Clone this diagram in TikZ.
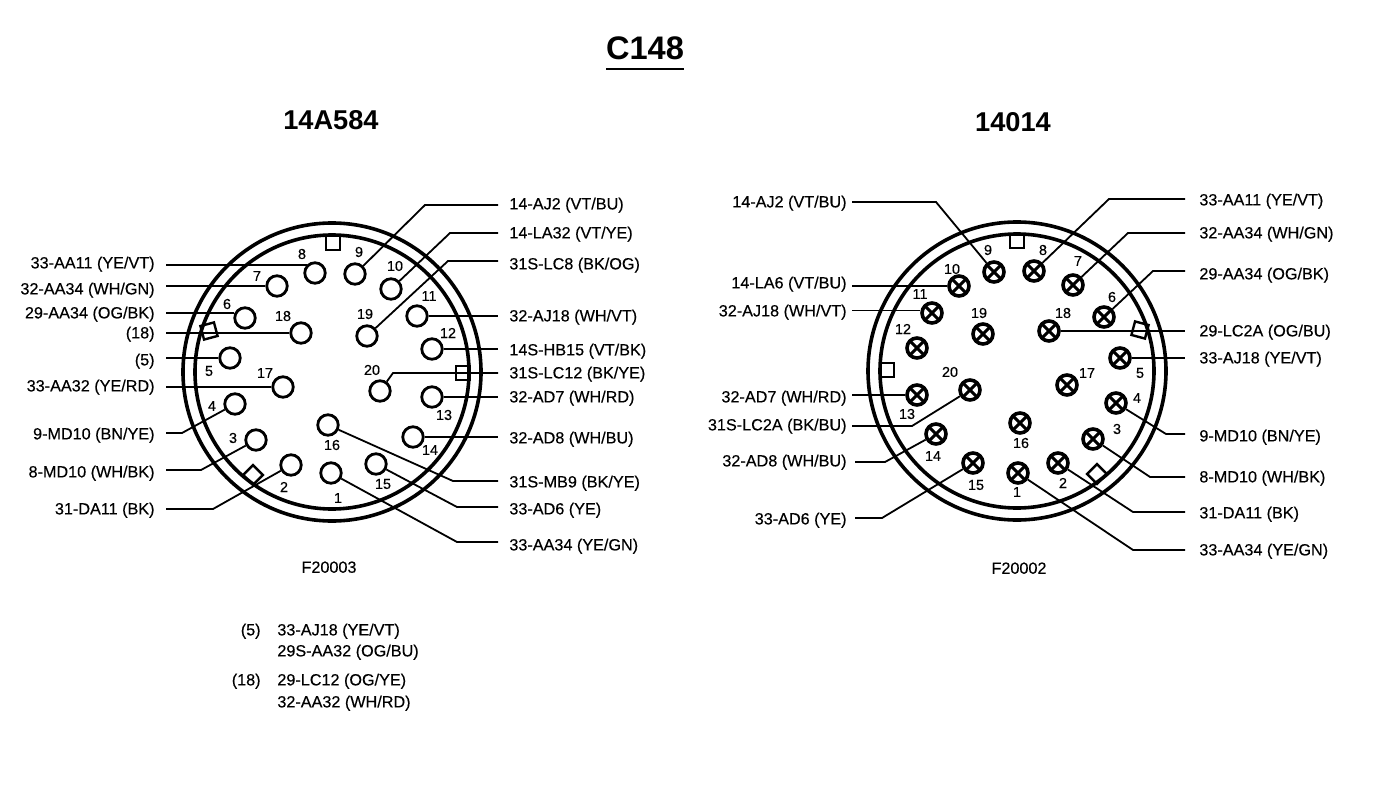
\documentclass[tikz,border=0pt]{standalone}
\usepackage{fontspec}
\setmainfont{Liberation Sans}
\newfontfamily\scanfont[FakeBold=0.3]{Liberation Sans}

\tikzset{
  ring/.style={line width=1.8pt},
  key/.style={draw, line width=1.2pt, minimum size=7pt, inner sep=0pt},
  pina/.style={circle, draw, fill=white, line width=1.4pt, minimum size=10.25pt, inner sep=0pt},
  pinb/.style={pina, line width=1.8pt, minimum size=10pt,
    path picture={\draw [line width=1.5pt] (path picture bounding box.north west) -- (path picture bounding box.south east);
      \draw [line width=1.5pt] (path picture bounding box.north east) -- (path picture bounding box.south west);}},
  num/.style={inner sep=0pt, font=\scanfont\fontsize{7.2}{8}\selectfont},
  labl/.style={anchor=east, inner xsep=#1, inner ysep=0pt, yshift=-0.6pt, font=\scanfont\fontsize{8.1}{9}\selectfont},
  labr/.style={anchor=west, inner xsep=#1, inner ysep=0pt, yshift=-0.6pt, font=\scanfont\fontsize{8.1}{9}\selectfont},
  wire/.style={line width=0.9pt},
  heavywire/.style={line width=1.4pt},
  head/.style={inner sep=0pt, font=\fontsize{13.6}{16}\bfseries\selectfont},
  foot/.style={inner sep=0pt, yshift=-0.6pt, font=\scanfont\fontsize{8.1}{9}\selectfont}
}

\begin{document}
\begin{tikzpicture}[x=0.5pt, y=-0.5pt]
\useasboundingbox (0,0) rectangle (1376,792);

\node [inner sep=0pt, font=\fontsize{16.3}{18}\bfseries\selectfont] (title) at (645,48) {C148};
\draw [line width=1pt] (606,69) -- (684,69);
\node [head] (heada) at (331,120) {14A584};
\node [head] (headb) at (1013,122) {14014};
\node [foot] (foota) at (329,566) {F20003};
\node [foot] (footb) at (1019,567) {F20002};

% left connector
\draw [ring] (332,372) circle [radius=149];
\draw [ring] (332,372) circle [radius=137];
\node [key] (keya1) at (333,243) {};
\node [key, rotate=15] (keya2) at (209,331) {};
\node [key] (keya3) at (463,373) {};
\node [key, rotate=45] (keya4) at (253,475) {};

\node [pina] (a1) at (331,473) {};
\node [pina] (a2) at (291,465) {};
\node [pina] (a3) at (256,440) {};
\node [pina] (a4) at (235,404) {};
\node [pina] (a5) at (230,358) {};
\node [pina] (a6) at (245,318) {};
\node [pina] (a7) at (277,286) {};
\node [pina] (a8) at (315,273) {};
\node [pina] (a9) at (355,274) {};
\node [pina] (a10) at (391,289) {};
\node [pina] (a11) at (417,316) {};
\node [pina] (a12) at (432,349) {};
\node [pina] (a13) at (432,397) {};
\node [pina] (a14) at (413,437) {};
\node [pina] (a15) at (376,464) {};
\node [pina] (a16) at (328,425) {};
\node [pina] (a17) at (283,387) {};
\node [pina] (a18) at (301,333) {};
\node [pina] (a19) at (367,336) {};
\node [pina] (a20) at (380,391) {};

\node [num] (ta1) at (338,498) {1};
\node [num] (ta2) at (284,487) {2};
\node [num] (ta3) at (233,438) {3};
\node [num] (ta4) at (212,406) {4};
\node [num] (ta5) at (209,371) {5};
\node [num] (ta6) at (227,304) {6};
\node [num] (ta7) at (257,276) {7};
\node [num] (ta8) at (302,254) {8};
\node [num] (ta9) at (359,252) {9};
\node [num] (ta10) at (395,266) {10};
\node [num] (ta11) at (429,296) {11};
\node [num] (ta12) at (448,333) {12};
\node [num] (ta13) at (444,415) {13};
\node [num] (ta14) at (430,450) {14};
\node [num] (ta15) at (383,484) {15};
\node [num] (ta16) at (332,445) {16};
\node [num] (ta17) at (265,373) {17};
\node [num] (ta18) at (283,316) {18};
\node [num] (ta19) at (365,314) {19};
\node [num] (ta20) at (372,370) {20};

\node [labl=5.5pt] (la8) at (166,263) {33-AA11 (YE/VT)};
\node [labl=5.5pt] (la7) at (166,289) {32-AA34 (WH/GN)};
\node [labl=5.5pt] (la6) at (166,313) {29-AA34 (OG/BK)};
\node [labl=5.5pt] (la18) at (166,333) {(18)};
\node [labl=5.5pt] (la5) at (166,360) {(5)};
\node [labl=5.5pt] (la17) at (166,386) {33-AA32 (YE/RD)};
\node [labl=5.5pt] (la4) at (166,434) {9-MD10 (BN/YE)};
\node [labl=5.5pt] (la3) at (166,472) {8-MD10 (WH/BK)};
\node [labl=5.5pt] (la2) at (166,509) {31-DA11 (BK)};

\node [labr=5.5pt] (la9) at (498,204) {14-AJ2 (VT/BU)};
\node [labr=5.5pt] (la10) at (498,233) {14-LA32 (VT/YE)};
\node [labr=5.5pt] (la19) at (498,264) {31S-LC8 (BK/OG)};
\node [labr=5.5pt] (la11) at (498,316) {32-AJ18 (WH/VT)};
\node [labr=5.5pt] (la12) at (498,350) {14S-HB15 (VT/BK)};
\node [labr=5.5pt] (la20) at (498,373) {31S-LC12 (BK/YE)};
\node [labr=5.5pt] (la13) at (498,397) {32-AD7 (WH/RD)};
\node [labr=5.5pt] (la14) at (498,438) {32-AD8 (WH/BU)};
\node [labr=5.5pt] (la16) at (498,482) {31S-MB9 (BK/YE)};
\node [labr=5.5pt] (la15) at (498,509) {33-AD6 (YE)};
\node [labr=5.5pt] (la1) at (498,545) {33-AA34 (YE/GN)};

\draw [wire] (a8.136) -- (la8.east |- a8.136);
\draw [wire] (a7) -- (la7.east |- a7);
\draw [wire] (a6.156) -- (la6.east |- a6.156);
\draw [wire] (a18) -- (la18.east |- a18);
\draw [wire] (a5) -- (la5.east |- a5);
\draw [wire] (a17) -- (la17.east |- a17);
\draw [wire] (a11) -- (la11.west |- a11);
\draw [heavywire] (a12) -- (la12.west |- a12);
\draw [wire] (a13) -- (la13.west |- a13);
\draw [wire] (a14) -- (la14.west |- a14);

\coordinate (ka4) at (182,433);
\coordinate (ka3) at (201,470);
\coordinate (ka2) at (213,509);
\coordinate (ka9) at (425,205);
\coordinate (ka10) at (450,233);
\coordinate (ka19) at (448,261);
\coordinate (ka20) at (393,373);
\coordinate (ka16) at (453,481);
\coordinate (ka15) at (457,507);
\coordinate (ka1) at (457,542);
\draw [wire] (a4) -- (ka4) -- (la4.east |- ka4);
\draw [wire] (a3) -- (ka3) -- (la3.east |- ka3);
\draw [wire] (a2) -- (ka2) -- (la2.east |- ka2);
\draw [wire] (a9) -- (ka9) -- (la9.west |- ka9);
\draw [wire] (a10) -- (ka10) -- (la10.west |- ka10);
\draw [wire] (a19) -- (ka19) -- (la19.west |- ka19);
\draw [wire] (a20) -- (ka20) -- (la20.west |- ka20);
\draw [wire] (a16) -- (ka16) -- (la16.west |- ka16);
\draw [wire] (a15) -- (ka15) -- (la15.west |- ka15);
\draw [wire] (a1) -- (ka1) -- (la1.west |- ka1);

% notes
\node [foot, anchor=east] (n5) at (261,630) {(5)};
\node [foot, anchor=west] (n5a) at (277,630) {33-AJ18 (YE/VT)};
\node [foot, anchor=west] (n5b) at (277,651) {29S-AA32 (OG/BU)};
\node [foot, anchor=east] (n18) at (261,680) {(18)};
\node [foot, anchor=west] (n18a) at (277,680) {29-LC12 (OG/YE)};
\node [foot, anchor=west] (n18b) at (277,702) {32-AA32 (WH/RD)};

% right connector
\draw [ring] (1017,371) circle [radius=149];
\draw [ring] (1017,371) circle [radius=137];
\node [key] (keyb1) at (1017,241) {};
\node [key] (keyb2) at (887,370) {};
\node [key, rotate=-15] (keyb3) at (1140,330) {};
\node [key, rotate=45] (keyb4) at (1097,474) {};

\node [pinb] (b1) at (1018,473) {};
\node [pinb] (b2) at (1058,463) {};
\node [pinb] (b3) at (1093,439) {};
\node [pinb] (b4) at (1116,403) {};
\node [pinb] (b5) at (1120,358) {};
\node [pinb] (b6) at (1104,317) {};
\node [pinb] (b7) at (1073,285) {};
\node [pinb] (b8) at (1034,271) {};
\node [pinb] (b9) at (994,272) {};
\node [pinb] (b10) at (959,286) {};
\node [pinb] (b11) at (932,313) {};
\node [pinb] (b12) at (917,348) {};
\node [pinb] (b13) at (917,395) {};
\node [pinb] (b14) at (936,434) {};
\node [pinb] (b15) at (973,463) {};
\node [pinb] (b16) at (1020,423) {};
\node [pinb] (b17) at (1067,385) {};
\node [pinb] (b18) at (1049,331) {};
\node [pinb] (b19) at (983,334) {};
\node [pinb] (b20) at (970,390) {};

\node [num] (tb1) at (1017,492) {1};
\node [num] (tb2) at (1063,483) {2};
\node [num] (tb3) at (1117,429) {3};
\node [num] (tb4) at (1137,398) {4};
\node [num] (tb5) at (1140,373) {5};
\node [num] (tb6) at (1112,297) {6};
\node [num] (tb7) at (1078,261) {7};
\node [num] (tb8) at (1043,250) {8};
\node [num] (tb9) at (988,250) {9};
\node [num] (tb10) at (952,269) {10};
\node [num] (tb11) at (920,294) {11};
\node [num] (tb12) at (903,329) {12};
\node [num] (tb13) at (907,414) {13};
\node [num] (tb14) at (933,456) {14};
\node [num] (tb15) at (976,485) {15};
\node [num] (tb16) at (1021,443) {16};
\node [num] (tb17) at (1087,373) {17};
\node [num] (tb18) at (1063,313) {18};
\node [num] (tb19) at (979,313) {19};
\node [num] (tb20) at (950,372) {20};

\node [labl=2.5pt] (lb9) at (852,202) {14-AJ2 (VT/BU)};
\node [labl=2.5pt] (lb10) at (852,283) {14-LA6 (VT/BU)};
\node [labl=2.5pt] (lb11) at (852,311) {32-AJ18 (WH/VT)};
\node [labl=2.5pt] (lb13) at (852,397) {32-AD7 (WH/RD)};
\node [labl=2.5pt] (lb20) at (852,425) {31S-LC2A (BK/BU)};
\node [labl=4pt] (lb14) at (855,461) {32-AD8 (WH/BU)};
\node [labl=4pt] (lb15) at (855,519) {33-AD6 (YE)};

\node [labr=7pt] (lb8) at (1185,200) {33-AA11 (YE/VT)};
\node [labr=7pt] (lb7) at (1185,233) {32-AA34 (WH/GN)};
\node [labr=7pt] (lb6) at (1185,274) {29-AA34 (OG/BK)};
\node [labr=7pt] (lb18) at (1185,331) {29-LC2A (OG/BU)};
\node [labr=7pt] (lb5) at (1185,358) {33-AJ18 (YE/VT)};
\node [labr=7pt] (lb4) at (1185,436) {9-MD10 (BN/YE)};
\node [labr=7pt] (lb3) at (1185,477) {8-MD10 (WH/BK)};
\node [labr=7pt] (lb2) at (1185,513) {31-DA11 (BK)};
\node [labr=7pt] (lb1) at (1185,550) {33-AA34 (YE/GN)};

\draw [heavywire] (b10) -- (lb10.east |- b10);
\draw [wire] (b11.168) -- (lb11.east |- b11.168);
\draw [wire] (b13) -- (lb13.east |- b13);
\draw [heavywire] (b18) -- (lb18.west |- b18);
\draw [heavywire] (b5) -- (lb5.west |- b5);

\coordinate (kb9) at (936,202);
\coordinate (kb20) at (912,426);
\coordinate (kb14) at (885,462);
\coordinate (kb15) at (882,518);
\coordinate (kb8) at (1109,199);
\coordinate (kb7) at (1128,233);
\coordinate (kb6) at (1153,271);
\coordinate (kb4) at (1166,434);
\coordinate (kb3) at (1150,477);
\coordinate (kb2) at (1133,512);
\coordinate (kb1) at (1133,550);
\draw [wire] (b9) -- (kb9) -- (lb9.east |- kb9);
\draw [wire] (b20) -- (kb20) -- (lb20.east |- kb20);
\draw [wire] (b14) -- (kb14) -- (lb14.east |- kb14);
\draw [wire] (b15) -- (kb15) -- (lb15.east |- kb15);
\draw [wire] (b8) -- (kb8) -- (lb8.west |- kb8);
\draw [wire] (b7) -- (kb7) -- (lb7.west |- kb7);
\draw [wire] (b6) -- (kb6) -- (lb6.west |- kb6);
\draw [wire] (b4) -- (kb4) -- (lb4.west |- kb4);
\draw [wire] (b3) -- (kb3) -- (lb3.west |- kb3);
\draw [wire] (b2) -- (kb2) -- (lb2.west |- kb2);
\draw [wire] (b1) -- (kb1) -- (lb1.west |- kb1);
\end{tikzpicture}
\end{document}
